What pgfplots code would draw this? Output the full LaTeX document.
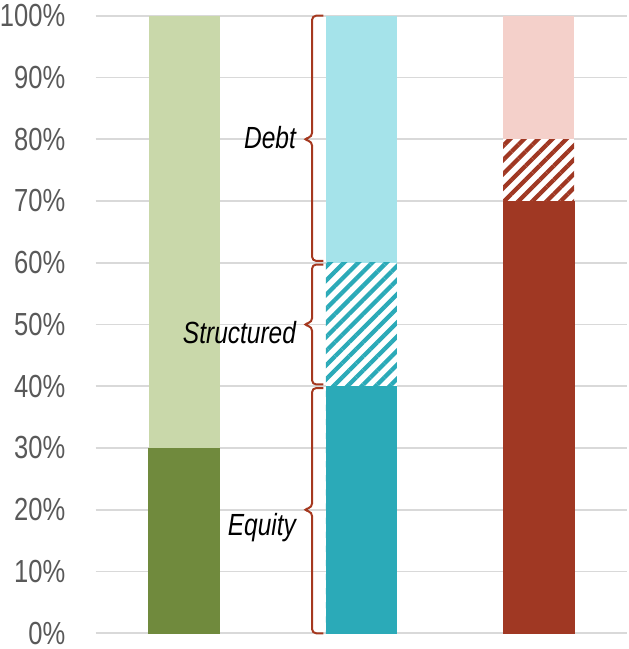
\documentclass[border=0pt]{standalone}
\usepackage{pgfplots}
\pgfplotsset{compat=1.18}
\usepackage{fontspec}
\setmainfont{Liberation Sans}[FakeStretch=0.8]
\usetikzlibrary{patterns.meta}
\definecolor{gD}{HTML}{708A3D}
\definecolor{gL}{HTML}{C9D8AA}
\definecolor{tD}{HTML}{2BAAB8}
\definecolor{tL}{HTML}{A5E3EA}
\definecolor{rD}{HTML}{A03823}
\definecolor{rL}{HTML}{F4D0CA}
\definecolor{brc}{HTML}{A5381F}
\definecolor{gridc}{HTML}{D9D9D9}
\definecolor{tickc}{HTML}{595959}
\begin{document}
\begin{tikzpicture}
\begin{axis}[
  scale only axis,
  width=399.75pt, height=464.25pt,
  xmin=-0.5, xmax=2.5,
  ymin=0, ymax=100,
  ytick={0,10,...,100},
  xtick=\empty,
  ymajorgrids,
  grid style={color=gridc, line width=1.2pt},
  axis line style={draw=none},
  major tick length=0pt,
  /pgf/number format/assume math mode=true,
  yticklabel={\pgfmathprintnumber{\tick}\%},
  yticklabel style={font=\fontsize{24}{28}\selectfont, color=tickc, inner xsep=0pt, xshift=-22.5pt},
  ybar, bar width=53.25pt,
  every axis plot/.append style={draw=none, bar shift=0pt},
  clip=false,
]
% bar 1
\addplot[fill=gL] coordinates {(0,100)};
\addplot[fill=gD, draw=gD, line width=0.6pt] coordinates {(0,30)};
% bar 2
\addplot[fill=tL] coordinates {(1,100)};
\addplot[fill=white] coordinates {(1,60)};
\addplot[pattern={Lines[angle=45,distance=7.5pt,line width=3.2pt]}, pattern color=tD] coordinates {(1,60)};
\addplot[fill=tD, draw=tD, line width=0.6pt] coordinates {(1,40)};
% bar 3
\addplot[fill=rL] coordinates {(2,100)};
\addplot[fill=white] coordinates {(2,80)};
\addplot[pattern={Lines[angle=45,distance=7.5pt,line width=3.2pt]}, pattern color=rD] coordinates {(2,80)};
\addplot[fill=rD, draw=rD, line width=0.6pt] coordinates {(2,70)};
% braces
\draw[brc, line width=1.5pt, rounded corners=3pt]
  (axis cs:0.785,100) -- (axis cs:0.722,100) -- (axis cs:0.722,80.4) -- (axis cs:0.672,80) -- (axis cs:0.722,79.6) -- (axis cs:0.722,60.3) -- (axis cs:0.785,60.3);
\draw[brc, line width=1.5pt, rounded corners=3pt]
  (axis cs:0.785,59.7) -- (axis cs:0.722,59.7) -- (axis cs:0.722,50.4) -- (axis cs:0.672,50) -- (axis cs:0.722,49.6) -- (axis cs:0.722,40.3) -- (axis cs:0.785,40.3);
\draw[brc, line width=1.5pt, rounded corners=3pt]
  (axis cs:0.785,39.7) -- (axis cs:0.722,39.7) -- (axis cs:0.722,20.4) -- (axis cs:0.672,20) -- (axis cs:0.722,19.6) -- (axis cs:0.722,0) -- (axis cs:0.785,0);
\node[anchor=base east, inner sep=0pt, font=\fontsize{23}{27}\selectfont\itshape] at (axis cs:0.632,78.5) {Debt};
\node[anchor=base east, inner sep=0pt, font=\fontsize{23}{27}\selectfont\itshape] at (axis cs:0.632,46.85) {Structured};
\node[anchor=base east, inner sep=0pt, font=\fontsize{23}{27}\selectfont\itshape] at (axis cs:0.632,15.8) {Equity};
\end{axis}
\end{tikzpicture}
\end{document}
